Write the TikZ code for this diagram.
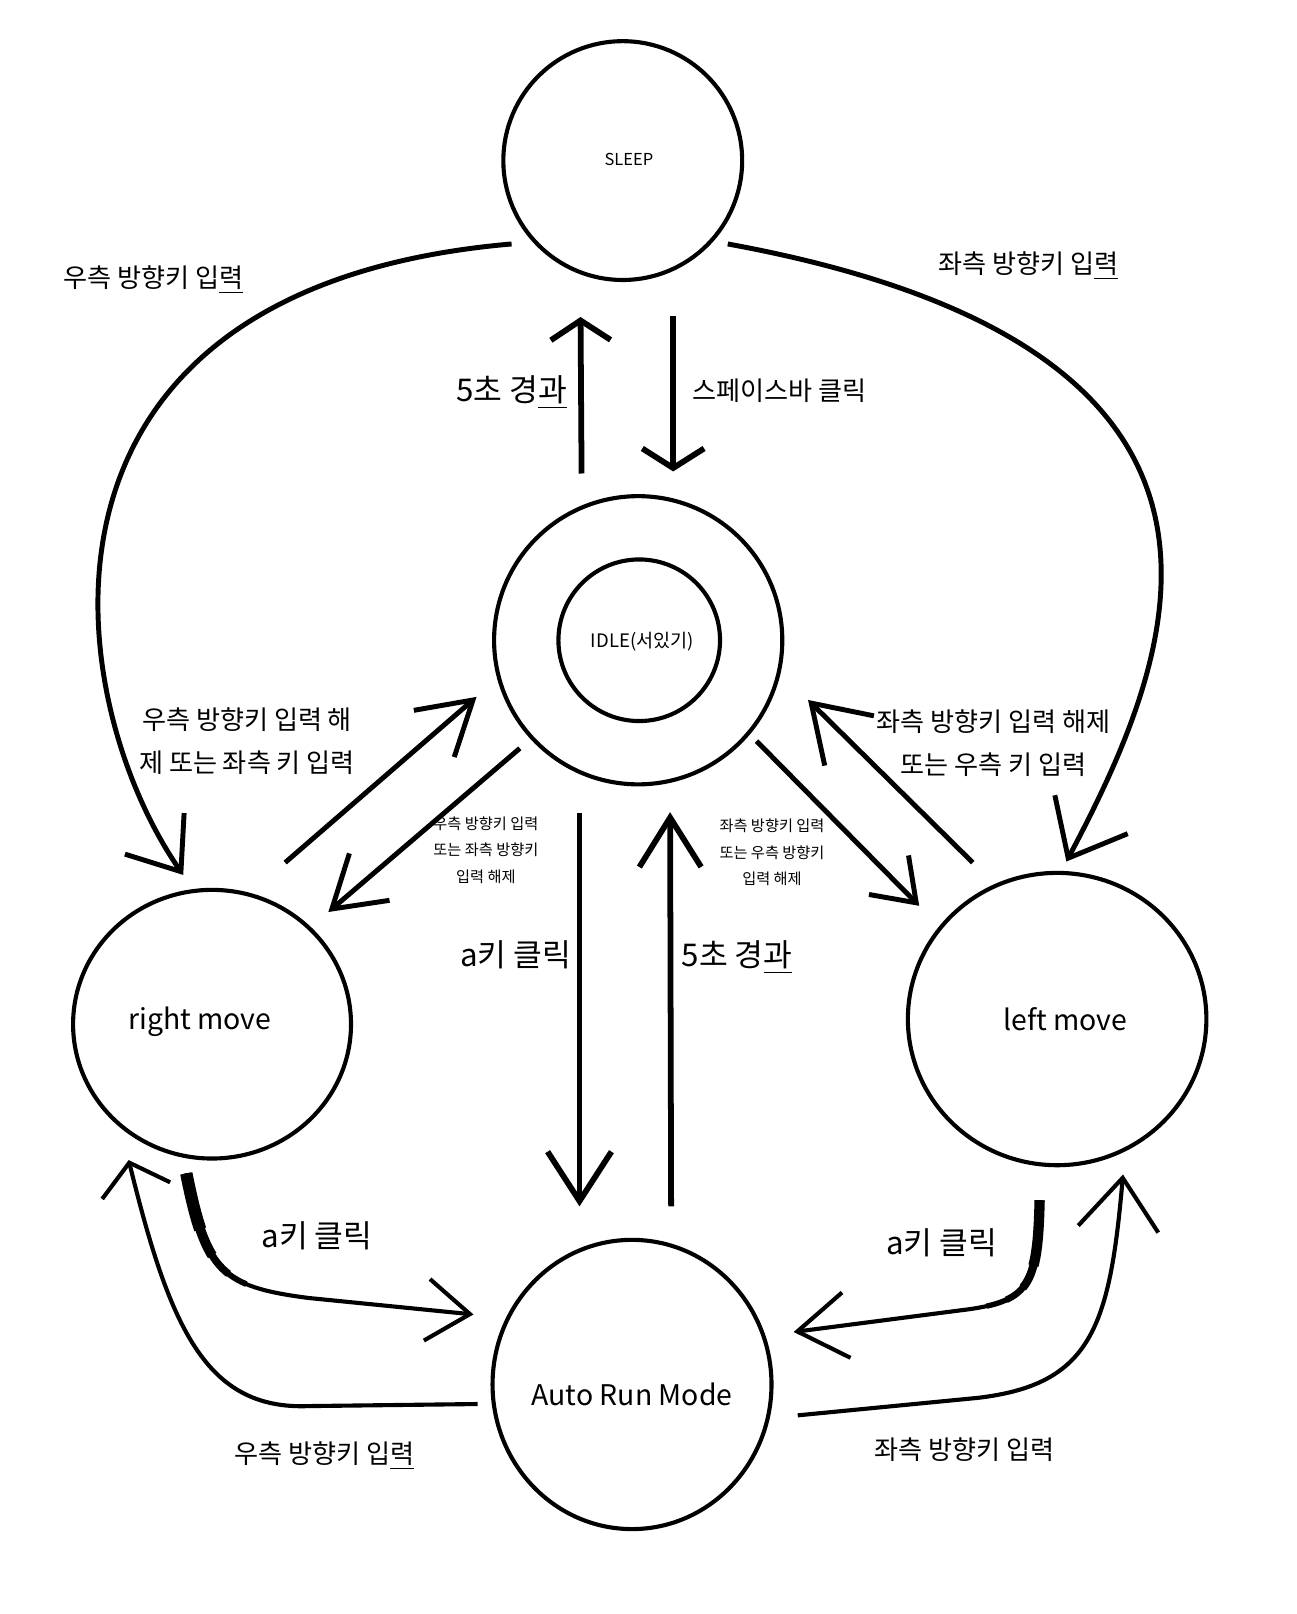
\documentclass[tikz,border=0pt]{standalone}
\usepackage{fontspec}
\setmainfont{Noto Sans CJK KR}
\usetikzlibrary{arrows.meta,shapes.geometric,calc}
\begin{document}
\begin{tikzpicture}[x=0.5pt,y=-0.5pt,
  stcircle/.style={draw, line width=2pt, circle, inner sep=0pt, outer sep=0pt},
  stoval/.style={draw, line width=2pt, ellipse, inner sep=0pt, outer sep=0pt},
  lblmid/.style={inner sep=0pt, font=\fontsize{12.7}{20.5}\selectfont, align=center},
  lblbig/.style={inner sep=0pt, font=\fontsize{15.2}{18}\selectfont},
  lblsmall/.style={inner sep=0pt, font=\fontsize{7.4}{13}\selectfont, align=center},
  lblstate/.style={inner sep=0pt, font=\fontsize{13.8}{17}\selectfont},
  ar/.style 2 args={-{Straight Barb[length=#1pt,width=#2pt]}},
  vline/.style={line width=2.8pt},
  dline/.style={line width=2.4pt},
  crv/.style={line width=2.2pt}
]
\useasboundingbox (0,0) rectangle (1260,1568);

% states
\node[stcircle, minimum size=116pt] (sleep) at (605,156) {};
\node[inner sep=0pt, font=\fontsize{8}{10}\selectfont] (sleept) at (611,155) {SLEEP};
\node[stcircle, minimum size=140pt] (idle) at (620,622) {};
\node[stcircle, minimum size=78.5pt] (idlein) at (621,622) {};
\node[inner sep=0pt, font=\fontsize{9}{11}\selectfont] (idlet) at (624,623) {IDLE(서있기)};
\node[stoval, minimum width=135pt, minimum height=130.5pt] (rm) at (206,995) {};
\node[lblstate] (rmt) at (194,993) {right move};
\node[stoval, minimum width=145pt, minimum height=142pt] (lm) at (1027,990) {};
\node[lblstate] (lmt) at (1035,990) {left move};
\node[stoval, minimum width=135.5pt, minimum height=140.5pt] (auto) at (614,1345) {};
\node[lblstate] (autot) at (614,1355) {Auto Run Mode};

% SLEEP -> right move / left move
\draw[crv, line width=2.4pt, ar={22.5}{35}] ($(sleep)+(-108,81)$) .. controls (0,280) and (60,680) .. ($(rm)+(-28,-145)$);
\draw[crv, line width=2.4pt, ar={24}{40}] ($(sleep)+(102,81)$) .. controls (1270,340) and (1140,640) .. ($(lm)+(9,-153)$);

% SLEEP <-> IDLE
\draw[vline, ar={9.5}{29}] ($(idle)+(-55,-162)$) -- ($(sleep)+(-41,152)$);
\draw[vline, ar={9.5}{30}] ($(sleep)+(49,151)$) -- ($(idle)+(34,-164)$);

% IDLE <-> Auto
\draw[vline, ar={24}{31}] ($(idle)+(-57,168)$) -- ($(auto)+(-51,-173)$);
\draw[vline, ar={24}{30}] ($(auto)+(38,-173)$) -- ($(idle)+(31,167)$);

% IDLE <-> right move
\draw[dline, ar={25}{30}] ($(rm)+(71,-157)$) -- ($(idle)+(-157,55)$);
\draw[dline, ar={24}{30}] ($(idle)+(-115,105)$) -- ($(rm)+(113,-109)$);

% IDLE <-> left move
\draw[dline, ar={19}{27}] ($(idle)+(115,98)$) -- ($(lm)+(-134,-110)$);
\draw[dline, ar={26}{34}] ($(lm)+(-82,-152)$) -- ($(idle)+(165,58)$);

% right move -> Auto (a key, thick start)
\draw[crv, line width=2pt, ar={21}{30}] ($(rm)+(-25,145)$) .. controls (200,1235) and (215,1250) .. (300,1261) -- ($(auto)+(-154,-68)$);
\foreach \w/\l in {6/28,4.8/42,3.6/54,2.8/64}
  \draw[line width=\w pt, dash pattern=on \l pt off 2000pt] ($(rm)+(-25,145)$) .. controls (200,1235) and (215,1250) .. (300,1261);

% Auto -> right move
\draw[crv, line width=2pt, ar={14}{34}] ($(auto)+(-150,19)$) -- (300,1366) .. controls (200,1370) and (165,1290) .. ($(rm)+(-81,132)$);

% left move -> Auto (a key, thick start)
\draw[crv, line width=2pt, ar={24}{32}] ($(lm)+(-17,176)$) .. controls (1008,1250) and (1000,1265) .. (933,1273) -- ($(auto)+(157,-51)$);
\foreach \w/\l in {5/32,4/44,3.2/54,2.6/64}
  \draw[line width=\w pt, dash pattern=on \l pt off 2000pt] ($(lm)+(-17,176)$) .. controls (1008,1250) and (1000,1265) .. (933,1273);

% Auto -> left move
\draw[crv, line width=2pt, ar={25}{39}] ($(auto)+(161,30)$) -- (950,1358) .. controls (1060,1345) and (1078,1290) .. ($(lm)+(64,151)$);

% labels
\node[lblmid] (t1) at (149,272) {우측 방향키 입\underline{력}};
\node[lblmid] (t2) at (999,258) {좌측 방향키 입\underline{력}};
\node[lblbig] (t3) at (497,381) {5초 경\underline{과}};
\node[lblmid] (t4) at (757,380) {스페이스바 클릭};
\node[lblmid] (t5) at (240,720) {우측 방향키 입력 해\\제 또는 좌측 키 입력};
\node[lblmid] (t6) at (965,722) {좌측 방향키 입력 해제\\또는 우측 키 입력};
\node[lblsmall] (t7) at (472,826) {우측 방향키 입력\\또는 좌측 방향키\\입력 해제};
\node[lblsmall] (t8) at (750,828) {좌측 방향키 입력\\또는 우측 방향키\\입력 해제};
\node[lblbig] (t9) at (501,928) {a키 클릭};
\node[lblbig] (t10) at (716,930) {5초 경\underline{과}};
\node[lblbig] (t11) at (308,1201) {a키 클릭};
\node[lblbig] (t12) at (915,1207) {a키 클릭};
\node[lblmid] (t13) at (315,1414) {우측 방향키 입\underline{력}};
\node[lblmid] (t14) at (937,1408) {좌측 방향키 입력};
\end{tikzpicture}
\end{document}
